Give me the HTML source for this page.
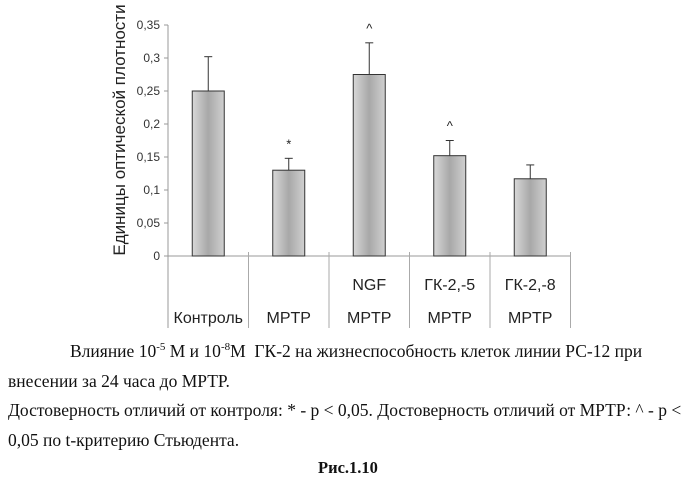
<!DOCTYPE html>
<html><head><meta charset="utf-8"><style>
body{margin:0;background:#fff;width:699px;height:476px;overflow:hidden;position:relative;font-family:"Liberation Serif",serif;}
.cap{position:absolute;font-size:17.5px;color:#111;white-space:nowrap;}
sup{font-size:11px;}
</style></head><body>
<svg width="699" height="340" style="position:absolute;left:0;top:0" font-family="Liberation Sans, sans-serif">
<defs><linearGradient id="g" x1="0" x2="1"><stop offset="0" stop-color="#d8d8d8"/><stop offset="0.5" stop-color="#a8a8a8"/><stop offset="1" stop-color="#d0d0d0"/></linearGradient></defs>
<g id="chart"></g>
</svg>
<div class="cap" style="left:70px;top:341px">Влияние 10<sup>-5</sup> М и 10<sup>-8</sup>М &nbsp;ГК-2 на жизнеспособность клеток линии РС-12 при</div>
<div class="cap" style="left:8px;top:371px">внесении за 24 часа до МРТР.</div>
<div class="cap" style="left:8px;top:400px">Достоверность отличий от контроля: * - p &lt; 0,05. Достоверность отличий от МРТР: ^ - p &lt;</div>
<div class="cap" style="left:8px;top:430px">0,05 по t-критерию Стьюдента.</div>
<div class="cap" style="left:318px;top:458px;font-weight:bold;font-size:16.5px">Рис.1.10</div>
<script>
const categories1=["","","NGF","ГК-2,-5","ГК-2,-8"];
const categories2=["Контроль","MPTP","MPTP","MPTP","MPTP"];
const values=[0.25,0.13,0.275,0.152,0.117];
const errors=[0.052,0.018,0.048,0.023,0.021];
const marks=["","*","^","^",""];
const ticks=[0,0.05,0.1,0.15,0.2,0.25,0.3,0.35];
const tickLabels=["0","0,05","0,1","0,15","0,2","0,25","0,3","0,35"];
const NS="http://www.w3.org/2000/svg",g=document.getElementById('chart');
const X0=168,CW=80.5,Y0=256,YT=25,VMAX=0.35;
const y=v=>Y0-(v/VMAX)*(Y0-YT);
const xc=i=>X0+CW*(i+0.5);
function mk(t,a,txt){const e=document.createElementNS(NS,t);for(const k in a)e.setAttribute(k,a[k]);if(txt!==undefined)e.textContent=txt;g.appendChild(e);return e;}
let e=mk('line',{x1:X0,x2:X0,y1:YT,y2:328,stroke:'#999'});

e=mk('line',{x1:X0,x2:X0+CW*5,y1:Y0,y2:Y0,stroke:'#999'});

ticks.forEach((t,i)=>{
 e=mk('line',{x1:X0-4,x2:X0,y1:y(t),y2:y(t),stroke:'#999'});
 
 e=mk('text',{x:X0-8,y:y(t)+4,'text-anchor':'end','font-size':12,fill:'#333'},tickLabels[i]);
 
});
e=mk('text',{transform:'translate(125,130) rotate(-90)','text-anchor':'middle','font-size':17,fill:'#222'},'Единицы оптической плотности');

for(let i=1;i<=5;i++){e=mk('line',{x1:X0+CW*i,x2:X0+CW*i,y1:Y0-4,y2:328,stroke:'#aaa'});
 }
values.forEach((v,i)=>{
 const cx=xc(i),bw=32;
 e=mk('line',{x1:cx,x2:cx,y1:y(v),y2:y(v+errors[i]),stroke:'#333'});
 
 e=mk('line',{x1:cx-4,x2:cx+4,y1:y(v+errors[i]),y2:y(v+errors[i]),stroke:'#333'});
 
 e=mk('rect',{x:cx-bw/2,y:y(v),width:bw,height:Y0-y(v),fill:'url(#g)',stroke:'#333'});
 
 if(marks[i]){e=mk('text',{x:cx,y:y(v+errors[i])-10,'text-anchor':'middle','font-size':13,fill:'#222'},marks[i]);
  }
 e=mk('text',{x:cx,y:290,'text-anchor':'middle','font-size':16,fill:'#222'},categories1[i]);
 
 e=mk('text',{x:cx,y:323,'text-anchor':'middle','font-size':16,fill:'#222'},categories2[i]);
 
});
</script>
</body></html>
